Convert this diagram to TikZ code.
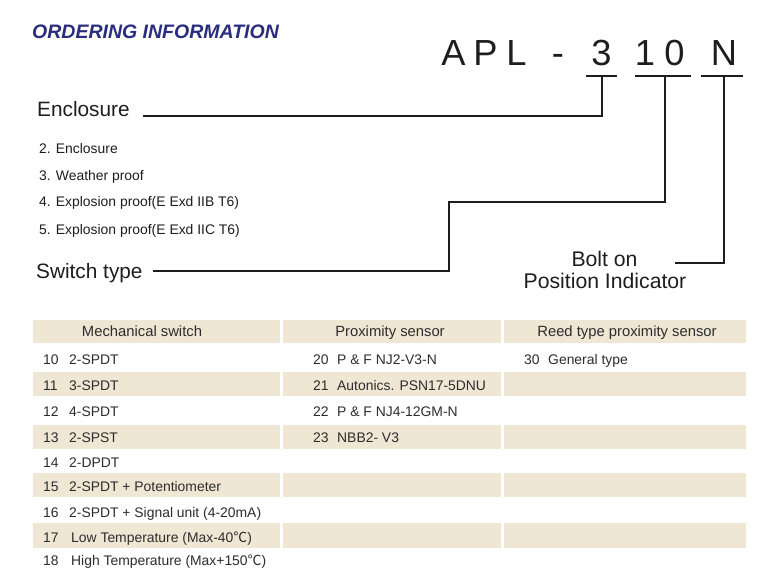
\documentclass[tikz,border=0pt]{standalone}
\usepackage{fontspec}
\setmainfont{Liberation Sans}
\newfontfamily\cjk{Noto Sans CJK SC}
\definecolor{navy}{RGB}{40,45,125}
\definecolor{ink}{RGB}{30,30,30}
\definecolor{tabink}{RGB}{45,45,45}
\definecolor{beige}{RGB}{239,230,212}
\newcommand{\degc}{{\cjk ℃}}
\begin{document}
\begin{tikzpicture}[x=1pt,y=-1pt,
  lbl/.style={inner sep=0, anchor=base west, text=ink, font=\fontsize{20.8}{24}\selectfont},
  item/.style={inner sep=0, anchor=base west, text=ink, font=\fontsize{13.9}{16}\selectfont},
  cell/.style={inner sep=0, anchor=base west, text=tabink, font=\fontsize{13.9}{16}\selectfont},
  hdr/.style={inner sep=0, anchor=base, text=tabink, font=\fontsize{14.8}{16}\selectfont},
  big/.style={inner sep=0, anchor=base, text=ink, font=\fontsize{36.3}{40}\selectfont},
  conn/.style={line width=1.3pt, draw=ink},
  shade/.style={fill=beige, draw=none}]
\useasboundingbox (0,0) rectangle (770,577);
\fill[white] (0,0) rectangle (770,577);

% title
\node[inner sep=0, anchor=base west, text=navy, font=\fontsize{19.5}{22}\selectfont\bfseries\itshape] (title) at (32,39) {ORDERING INFORMATION};

% model code
\node[big] (cA) at (453.5,66) {A};
\node[big] (cP) at (485.5,66) {P};
\node[big] (cL) at (516.5,66) {L};
\node[big] (cD) at (558,66) {-};
\node[big] (c3) at (601.5,66) {3};
\node[big] (c1) at (645,66) {1};
\node[big] (c0) at (674.5,66) {0};
\node[big] (cN) at (724,66) {N};

% underlines
\coordinate (u3l) at (586,76); \coordinate (u3r) at (617,76);
\coordinate (u10l) at (635,76); \coordinate (u10r) at (691,76);
\coordinate (uNl) at (701,76); \coordinate (uNr) at (743,76);
\coordinate (u3) at (602,76); \coordinate (u10) at (665,76); \coordinate (uN) at (724,76);
\draw[conn] (u3l) -- (u3r);
\draw[conn] (u10l) -- (u10r);
\draw[conn] (uNl) -- (uNr);

% labels
\node[lbl] (encl) at (37,117) {Enclosure};
\node[lbl] (switch) at (36,278) {Switch type};
\node[inner sep=0, anchor=base, text=ink, font=\fontsize{21.2}{24}\selectfont] (bolt) at (604.5,266) {Bolt on};
\node[inner sep=0, anchor=base, text=ink, font=\fontsize{21.2}{24}\selectfont] (posind) at (605,288) {Position Indicator};

% connectors
\coordinate (e0) at (143,116);
\coordinate (s0) at (153,271);
\coordinate (sm) at (449,202);
\coordinate (b0) at (675,263);
\draw[conn] (e0) -| (u3);
\draw[conn] (s0) -| (sm) -| (u10);
\draw[conn] (b0) -| (uN);

% enclosure options
\node[item] (o2) at (39,154) {2. Enclosure};
\node[item] (o3) at (39,181) {3. Weather proof};
\node[item] (o4) at (39,207) {4. Explosion proof(E Exd IIB T6)};
\node[item] (o5) at (39,234) {5. Explosion proof(E Exd IIC T6)};

% table shading
\foreach \ya/\yb in {320/343, 372/396, 425/449, 473/497, 523/548}{
  \fill[shade] (33,\ya) rectangle (280,\yb);
  \fill[shade] (283,\ya) rectangle (501,\yb);
  \fill[shade] (504,\ya) rectangle (746,\yb);
}

% headers
\node[hdr] (h1) at (142,336.5) {Mechanical switch};
\node[hdr] (h2) at (390,336.5) {Proximity sensor};
\node[hdr] (h3) at (627,336.5) {Reed type proximity sensor};

% column 1
\foreach \n/\y/\t/\tx in {10/364/2-SPDT/69, 11/390/3-SPDT/69, 12/416.5/4-SPDT/69, 13/442.5/2-SPST/69, 14/467.5/2-DPDT/69, 15/491.5/2-SPDT + Potentiometer/69, 16/517.5/2-SPDT + Signal unit (4-20mA)/69}{
  \node[cell] (n\n) at (43,\y) {\n};
  \node[cell] (t\n) at (\tx,\y) {\t};
}
\node[cell] (n17) at (43,542.5) {17};
\node[cell] (t17) at (71,542.5) {Low Temperature (Max-40\degc)};
\node[cell] (n18) at (43,565) {18};
\node[cell] (t18) at (71,565) {High Temperature (Max+150\degc)};

% column 2
\node[cell] (n20) at (313,364) {20};
\node[cell] (t20) at (337,364) {P \& F NJ2-V3-N};
\node[cell] (n21) at (313,390) {21};
\node[cell] (t21) at (337,390) {Autonics. PSN17-5DNU};
\node[cell] (n22) at (313,416.5) {22};
\node[cell] (t22) at (337,416.5) {P \& F NJ4-12GM-N};
\node[cell] (n23) at (313,442.5) {23};
\node[cell] (t23) at (337,442.5) {NBB2- V3};

% column 3
\node[cell] (n30) at (524,364) {30};
\node[cell] (t30) at (548,364) {General type};
\end{tikzpicture}
\end{document}
